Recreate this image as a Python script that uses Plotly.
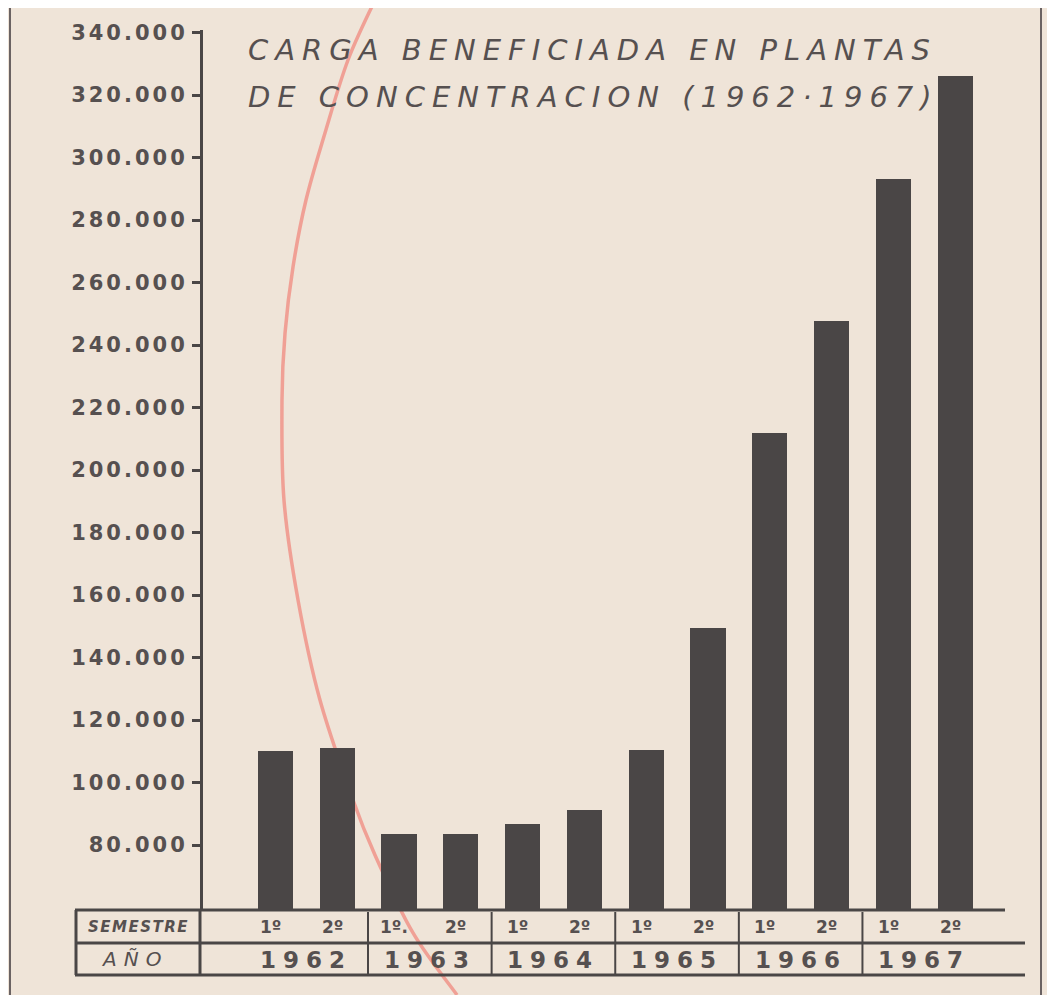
import plotly.graph_objects as go

# ---- data ----
years = ["1962", "1963", "1964", "1965", "1966", "1967"]
semester_labels = ["1º", "2º", "1º.", "2º", "1º", "2º", "1º", "2º", "1º", "2º", "1º", "2º"]
values = [110000, 111000, 83500, 83500, 86700, 91200,
          110500, 149300, 212000, 247700, 293100, 326000]
tick_values = [80000, 100000, 120000, 140000, 160000, 180000, 200000,
               220000, 240000, 260000, 280000, 300000, 320000, 340000]
tick_labels = ["80.000", "100.000", "120.000", "140.000", "160.000", "180.000",
               "200.000", "220.000", "240.000", "260.000", "280.000", "300.000",
               "320.000", "340.000"]
title_lines = ["CARGA BENEFICIADA EN PLANTAS", "DE CONCENTRACION (1962·1967)"]

OFF = 8  # browser body margin
W, H = 1055 - OFF, 995 - OFF
L, T = 203 - OFF, 30 - OFF
R = W - (1025 - OFF)
B = H - (910 - OFF)
pw, ph = W - L - R, H - T - B

def px(x):
    return (x - OFF - L) / pw

def py(y):
    return (H - B - (y - OFF)) / ph

ink = "#4a4646"
text_col = "#565050"
bg = "#efe4d8"

positions = list(range(len(values)))

fig = go.Figure()
fig.add_trace(go.Bar(x=positions, y=values, width=0.57,
                     marker=dict(color=ink, line=dict(width=0)),
                     hoverinfo="y"))

shapes = []
line_style = dict(color=ink, width=3)
# table horizontal lines
shapes.append(dict(type="line", xref="paper", yref="paper", x0=px(75), x1=px(1005), y0=py(910), y1=py(910), line=line_style))
shapes.append(dict(type="line", xref="paper", yref="paper", x0=px(75), x1=px(1025), y0=py(943), y1=py(943), line=line_style))
shapes.append(dict(type="line", xref="paper", yref="paper", x0=px(75), x1=px(1025), y0=py(975), y1=py(975), line=line_style))
# table vertical lines
shapes.append(dict(type="line", xref="paper", yref="paper", x0=px(76), x1=px(76), y0=py(910), y1=py(975), line=line_style))
shapes.append(dict(type="line", xref="paper", yref="paper", x0=px(200), x1=px(200), y0=py(910), y1=py(975), line=line_style))
for i in range(1, len(years)):
    xv = 2 * i - 0.5
    shapes.append(dict(type="line", xref="x", yref="paper", x0=xv, x1=xv, y0=py(912), y1=py(975), line=dict(color=ink, width=2)))

# page frame lines
shapes.append(dict(type="line", xref="paper", yref="paper", x0=px(10), x1=px(10), y0=py(8), y1=py(995), line=dict(color="#6a6262", width=2)))
shapes.append(dict(type="line", xref="paper", yref="paper", x0=px(1041), x1=px(1041), y0=py(8), y1=py(995), line=dict(color="#6a6262", width=2)))

# red pencil curve (decorative), smooth Catmull-Rom -> cubic bezier
pts = [(375, 0), (348, 60), (325, 133), (306, 200), (293, 267), (285, 333), (282, 400),
       (284, 500), (298, 600), (320, 700), (353, 800), (375, 855), (413, 933), (457, 995)]
P = [(px(x), py(y)) for x, y in pts]
path = f"M {P[0][0]:.4f},{P[0][1]:.4f}"
for i in range(len(P) - 1):
    p0 = P[i - 1] if i > 0 else P[i]
    p1, p2 = P[i], P[i + 1]
    p3 = P[i + 2] if i + 2 < len(P) else P[i + 1]
    c1 = (p1[0] + (p2[0] - p0[0]) / 6, p1[1] + (p2[1] - p0[1]) / 6)
    c2 = (p2[0] - (p3[0] - p1[0]) / 6, p2[1] - (p3[1] - p1[1]) / 6)
    path += f" C {c1[0]:.4f},{c1[1]:.4f} {c2[0]:.4f},{c2[1]:.4f} {p2[0]:.4f},{p2[1]:.4f}"
shapes.append(dict(type="path", xref="paper", yref="paper", path=path, layer="below",
                   line=dict(color="rgba(240,115,105,0.6)", width=3.5)))

annotations = []
# title
for k, line in enumerate(title_lines):
    annotations.append(dict(xref="paper", yref="paper", x=px(246), y=py(50 + 47 * k), xanchor="left", yanchor="middle",
                            text=f"<span style='letter-spacing:7px'><i>{line}</i></span>", showarrow=False,
                            font=dict(family="DejaVu Sans", size=29, color=text_col)))
# table labels
annotations.append(dict(xref="paper", yref="paper", x=px(138), y=py(927), xanchor="center", yanchor="middle",
                        text="<span style='letter-spacing:1.5px'><b><i>SEMESTRE</i></b></span>", showarrow=False,
                        font=dict(family="DejaVu Sans", size=15, color=text_col)))
annotations.append(dict(xref="paper", yref="paper", x=px(134), y=py(959), xanchor="center", yanchor="middle",
                        text="<span style='letter-spacing:7px'><i>AÑO</i></span>", showarrow=False,
                        font=dict(family="DejaVu Sans", size=20, color=text_col)))
for i, s in enumerate(semester_labels):
    annotations.append(dict(xref="x", yref="paper", x=positions[i] - 0.08, y=py(927), xanchor="center", yanchor="middle",
                            text=f"<b>{s}</b>", showarrow=False,
                            font=dict(family="DejaVu Sans", size=17, color=text_col)))
for j, yr in enumerate(years):
    annotations.append(dict(xref="x", yref="paper", x=2 * j + 0.5, y=py(960), xanchor="center", yanchor="middle",
                            text=f"<span style='letter-spacing:7px'><b>{yr}</b></span>", showarrow=False,
                            font=dict(family="DejaVu Sans", size=23, color=text_col)))

fig.update_layout(
    width=W, height=H,
    margin=dict(l=L, r=R, t=T, b=B, autoexpand=False),
    paper_bgcolor=bg, plot_bgcolor=bg,
    showlegend=False,
    bargap=0,
    xaxis=dict(range=[-1.17, 12.13], showticklabels=False, showgrid=False, zeroline=False,
               showline=False, ticks=""),
    yaxis=dict(range=[59200, 340800], tickvals=tick_values,
               ticktext=[f"<span style='letter-spacing:3px'>{t}</span>" for t in tick_labels],
               showgrid=False, zeroline=False, showline=True, linecolor=ink, linewidth=3,
               ticks="outside", ticklen=8, tickwidth=2.5, tickcolor=ink,
               tickfont=dict(family="DejaVu Sans", size=21, color=text_col, weight="bold"),
               ticklabelstandoff=0),
    shapes=shapes,
    annotations=annotations,
)

fig.write_html("out.html")
